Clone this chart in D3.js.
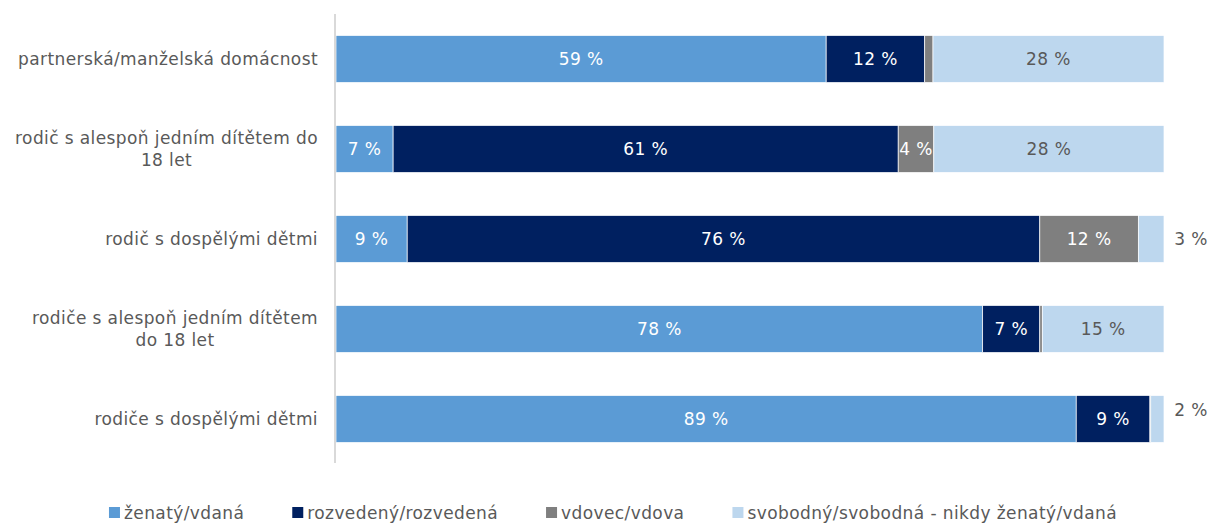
<!DOCTYPE html>
<html>
<head>
<meta charset="utf-8">
<script src="https://cdn.jsdelivr.net/npm/d3@7"></script>
<style>
  body { margin: 0; background: #fff; }
  text { font-family: "DejaVu Sans", sans-serif; letter-spacing: 0.4px; }
</style>
</head>
<body>
<svg id="chart"></svg>
<script>
var categories = [
  ["partnerská/manželská domácnost"],
  ["rodič s alespoň jedním dítětem do", "18 let"],
  ["rodič s dospělými dětmi"],
  ["rodiče s alespoň jedním dítětem", "do 18 let"],
  ["rodiče s dospělými dětmi"]
];
var seriesNames = ["ženatý/vdaná", "rozvedený/rozvedená", "vdovec/vdova", "svobodný/svobodná - nikdy ženatý/vdaná"];
var zenaty = [59.2, 6.9, 8.6, 78.1, 89.4];
var rozvedeny = [11.9, 61.0, 76.4, 6.9, 8.9];
var vdovec = [1.0, 4.3, 11.9, 0.3, 0.1];
var svobodny = [27.9, 27.8, 3.1, 14.7, 1.6];
var colors = ["#5B9BD5", "#002060", "#7F7F7F", "#BDD7EE"];
var labelColors = ["#ffffff", "#ffffff", "#ffffff", "#595959"];

var dimensions = {
  width: 1208,
  height: 523,
  margin: { top: 14, bottom: 59, left: 336, right: 44 }
};

var svg = d3.select("#chart")
  .attr("width", dimensions.width)
  .attr("height", dimensions.height);

var rows = categories.map(function (c, i) {
  return { idx: i, lines: c, vals: [zenaty[i], rozvedeny[i], vdovec[i], svobodny[i]] };
});

var xScale = d3.scaleLinear()
  .domain([0, 100])
  .range([dimensions.margin.left, dimensions.width - dimensions.margin.right]);

var yScale = d3.scaleBand()
  .domain(d3.range(categories.length))
  .range([dimensions.margin.top, dimensions.height - dimensions.margin.bottom])
  .paddingInner(0.478)
  .paddingOuter(0.239);

// stacked segments
var stack = d3.stack().keys([0, 1, 2, 3]).value(function (d, k) { return d.vals[k]; });
var layers = stack(rows);

var groups = svg.selectAll("g.layer")
  .data(layers)
  .enter()
  .append("g")
  .attr("class", "layer")
  .attr("fill", function (d) { return colors[d.key]; });

groups.selectAll("rect")
  .data(function (d) { return d; })
  .enter()
  .append("rect")
  .attr("x", function (d) { return xScale(d[0]); })
  .attr("width", function (d) { return xScale(d[1]) - xScale(d[0]); })
  .attr("y", function (d) { return yScale(d.data.idx); })
  .attr("height", yScale.bandwidth())
  .attr("stroke", "#ffffff")
  .attr("stroke-width", 0.7);

// data labels
layers.forEach(function (layer) {
  layer.forEach(function (d) {
    var v = d[1] - d[0];
    if (v < 2 && layer.key !== 3) return;
    var outside = layer.key === 3 && v < 5;
    var cy = yScale(d.data.idx) + yScale.bandwidth() / 2;
    svg.append("text")
      .attr("x", outside ? xScale(100) + 27 : (xScale(d[0]) + xScale(d[1])) / 2)
      .attr("y", outside && d.data.idx === 4 ? cy - 9 : cy)
      .attr("dy", "0.35em")
      .attr("text-anchor", "middle")
      .attr("font-size", 17)
      .attr("fill", outside ? "#595959" : labelColors[layer.key])
      .text(Math.round(v) + " %");
  });
});

// category axis
var axisX = dimensions.margin.left - 1;
svg.append("line")
  .attr("x1", axisX).attr("x2", axisX)
  .attr("y1", yScale.range()[0])
  .attr("y2", yScale.range()[1] - 1)
  .attr("stroke", "#D9D9D9")
  .attr("stroke-width", 2);

rows.forEach(function (r) {
  var cy = yScale(r.idx) + yScale.bandwidth() / 2;
  var t = svg.append("text")
    .attr("font-size", 17)
    .attr("fill", "#595959")
    .attr("text-anchor", "middle");
  var n = r.lines.length;
  r.lines.forEach(function (line, j) {
    t.append("tspan")
      .attr("x", 0)
      .attr("y", cy + (j - (n - 1) / 2) * 22)
      .attr("dy", "0.35em")
      .text(line);
  });
  var w = t.node().getBBox().width;
  t.selectAll("tspan").attr("x", 318 - w / 2);
});

// legend
var gap = 48;
var legend = svg.append("g");
var lx = 0;
seriesNames.forEach(function (name, i) {
  var item = legend.append("g").attr("transform", "translate(" + lx + ",0)");
  item.append("rect")
    .attr("x", 0).attr("y", -6)
    .attr("width", 11).attr("height", 11)
    .attr("fill", colors[i]);
  var tx = item.append("text")
    .attr("x", 15)
    .attr("dy", "0.35em")
    .attr("font-size", 17)
    .attr("fill", "#595959")
    .text(name);
  lx += 15 + tx.node().getComputedTextLength() + gap;
});
var lw = lx - gap;
legend.attr("transform", "translate(" + (613 - lw / 2) + ",513)");
</script>
</body>
</html>
